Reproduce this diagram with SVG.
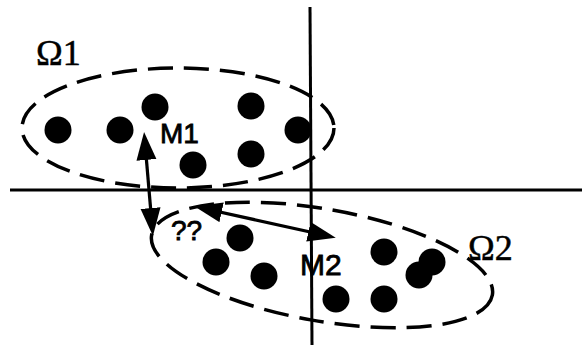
<svg xmlns="http://www.w3.org/2000/svg" width="582" height="348" viewBox="0 0 582 348">
<style>
.axis{stroke:#000;stroke-width:3;fill:none}
.cluster{stroke:#000;stroke-width:3.5;fill:none;stroke-dasharray:25 11}
.dot{fill:#000}
.conn{stroke:#000;stroke-width:3.2;fill:none;marker-start:url(#ah);marker-end:url(#ah)}
.sans{font-family:"Liberation Sans",Arial,sans-serif;fill:#000;stroke:#000;stroke-width:0.8}
.serif{font-family:"Liberation Serif","Times New Roman",serif;fill:#000;stroke:#000;stroke-width:0.5}
</style>
<defs>
<marker id="ah" markerUnits="userSpaceOnUse" markerWidth="30" markerHeight="22" refX="17" refY="10" orient="auto-start-reverse" viewBox="0 0 30 22">
<path d="M0,0 L28,10 L0,20 z" fill="#000"/>
</marker>
</defs>
<rect width="582" height="348" fill="#fff"/>
<g id="axes">
<line class="axis" x1="10" y1="190" x2="582" y2="190"/>
<line class="axis" x1="310" y1="7" x2="312" y2="345"/>
</g>
<g id="omega1">
<ellipse class="cluster" cx="178" cy="128" rx="156" ry="60"/>
<text class="serif" x="36" y="65" font-size="36">Ω1</text>
<circle class="dot" cx="58" cy="130" r="13.5"/>
<circle class="dot" cx="120" cy="130" r="13.5"/>
<circle class="dot" cx="155" cy="107" r="13.5"/>
<circle class="dot" cx="251" cy="106" r="13.5"/>
<circle class="dot" cx="298" cy="130" r="13.5"/>
<circle class="dot" cx="193" cy="165" r="13.5"/>
<circle class="dot" cx="251" cy="154" r="13.5"/>
</g>
<g id="omega2">
<ellipse class="cluster" cx="322" cy="265" rx="173" ry="56" transform="rotate(10 322 265)"/>
<text class="serif" x="468" y="260" font-size="36">Ω2</text>
<circle class="dot" cx="240" cy="238" r="13.5"/>
<circle class="dot" cx="216" cy="262" r="13.5"/>
<circle class="dot" cx="264" cy="276" r="13.5"/>
<circle class="dot" cx="384" cy="252" r="13.5"/>
<circle class="dot" cx="432" cy="262" r="13.5"/>
<circle class="dot" cx="419" cy="275" r="13.5"/>
<circle class="dot" cx="336" cy="299" r="13.5"/>
<circle class="dot" cx="384" cy="299" r="13.5"/>
</g>
<g id="m1"><text class="sans" x="160" y="143" font-size="28">M1</text></g>
<g id="m2"><text class="sans" x="300" y="275" font-size="30">M2</text></g>
<g id="unknown"><text class="sans" x="171" y="240" font-size="28">??</text></g>
<g id="connectors">
<line class="conn" x1="145" y1="143" x2="152" y2="225"/>
<line class="conn" x1="205" y1="208.7" x2="325" y2="235.3"/>
</g>
</svg>
